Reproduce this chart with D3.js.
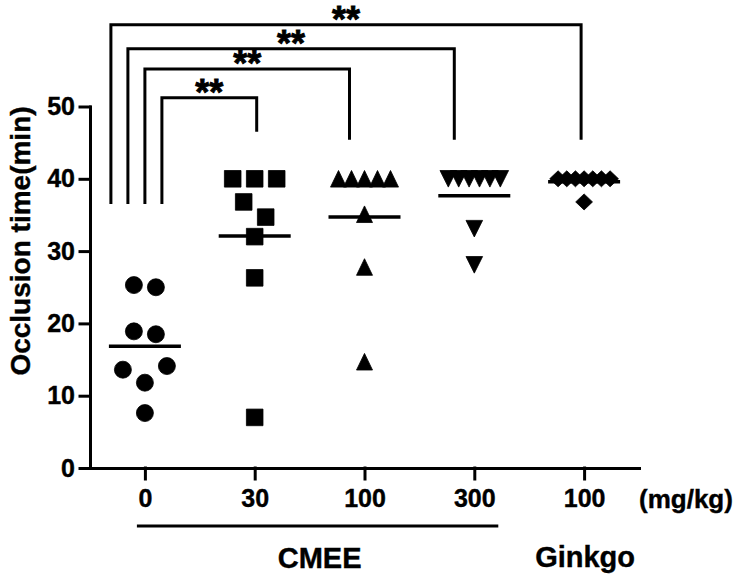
<!DOCTYPE html>
<html>
<head>
<meta charset="utf-8">
<script src="https://cdn.jsdelivr.net/npm/d3@7"></script>
<style>
	body { margin: 0; background: #fff; }
	svg text { font-family: "Liberation Sans", Arial, sans-serif; font-weight: bold; fill: #000; stroke: #000; stroke-width: 0.4px; }
</style>
</head>
<body>
<svg id="chart" width="740" height="579"></svg>
<script>
// groups on the x axis
const groupIds = ["cmee0", "cmee30", "cmee100", "cmee300", "ginkgo100"];
const doseLabels = ["0", "30", "100", "300", "100"];

// occlusion time (min) per animal
const cmee0 = [25.3, 25.0, 18.9, 18.5, 14.1, 13.6, 11.8, 7.6];
const cmee30 = [40, 40, 40, 36.8, 34.7, 32.0, 26.3, 7.0];
const cmee100 = [40, 40, 40, 40, 40, 35.1, 27.8, 14.7];
const cmee300 = [40, 40, 40, 40, 40, 40, 33.1, 28.1];
const ginkgo100 = [40, 40, 40, 40, 40, 40, 40, 36.8];
const groupValues = [cmee0, cmee30, cmee100, cmee300, ginkgo100];

const yTicks = [0, 10, 20, 30, 40, 50];

// significance brackets (vs control)
const comparisons = [["cmee0", "cmee30"], ["cmee0", "cmee100"], ["cmee0", "cmee300"], ["cmee0", "ginkgo100"]];
const bracketLevels = [51.2, 55.2, 58.0, 61.3];
const sigLabels = ["**", "**", "**", "**"];

function whenDocumentLoaded(action) {
	if (document.readyState === "loading") {
		document.addEventListener("DOMContentLoaded", action);
	} else {
		action();
	}
}

// custom marker shapes (bbox centred)
const shapes = {
	circle: { draw(ctx) { ctx.moveTo(8.5, 0); ctx.arc(0, 0, 8.5, 0, 2 * Math.PI); } },
	square: { draw(ctx) { ctx.rect(-8.3, -8.3, 16.6, 16.6); } },
	up: { draw(ctx) { ctx.moveTo(0, -8.3); ctx.lineTo(8, 8.3); ctx.lineTo(-8, 8.3); ctx.closePath(); } },
	down: { draw(ctx) { ctx.moveTo(0, 8.3); ctx.lineTo(8.3, -8.3); ctx.lineTo(-8.3, -8.3); ctx.closePath(); } },
	diamond: { draw(ctx) { ctx.moveTo(0, -8); ctx.lineTo(8.4, 0); ctx.lineTo(0, 8); ctx.lineTo(-8.4, 0); ctx.closePath(); } }
};
const groupShapes = ["circle", "square", "up", "down", "diamond"];

function drawChart() {
	const svg = d3.select("#chart");

	const x = d3.scalePoint()
		.domain(groupIds)
		.range([90, 639])
		.padding(0.5);

	const y = d3.scaleLinear()
		.domain([0, 50])
		.range([468, 106.5]);

	// axes
	const yAxis = d3.axisLeft(y)
		.tickValues(yTicks)
		.tickSize(10)
		.tickSizeOuter(0)
		.tickPadding(5);

	const xAxis = d3.axisBottom(x)
		.tickFormat((d, i) => doseLabels[i])
		.tickSize(11)
		.tickSizeOuter(0)
		.tickPadding(10);

	const yg = svg.append("g")
		.attr("transform", "translate(90,0)")
		.call(yAxis);
	yg.selectAll("text").style("font-size", "25px");

	const xg = svg.append("g")
		.attr("transform", "translate(0,468)")
		.call(xAxis);
	xg.selectAll("text").style("font-size", "25px");

	svg.selectAll(".domain, .tick line")
		.attr("stroke", "#000")
		.attr("stroke-width", 3)
		.attr("stroke-linecap", "square");

	// y label
	svg.append("text")
		.attr("transform", "translate(30,241) rotate(-90)")
		.attr("text-anchor", "middle")
		.style("font-size", "28px")
		.text("Occlusion time(min)");

	// unit label
	svg.append("text")
		.attr("x", 639)
		.attr("y", 508)
		.style("font-size", "26px")
		.text("(mg/kg)");

	// CMEE underline and group names
	svg.append("line")
		.attr("x1", x("cmee0") - 8)
		.attr("x2", x("cmee300") + 24)
		.attr("y1", 526)
		.attr("y2", 526)
		.attr("stroke", "#000")
		.attr("stroke-width", 3);

	svg.append("text")
		.attr("x", (x("cmee0") - 8 + x("cmee300") + 24) / 2 + 2)
		.attr("y", 568)
		.attr("text-anchor", "middle")
		.style("font-size", "29px")
		.text("CMEE");

	svg.append("text")
		.attr("x", x("ginkgo100") + 1)
		.attr("y", 567)
		.attr("text-anchor", "middle")
		.style("font-size", "29px")
		.text("Ginkgo");

	// scatter: points are grouped into rows of near-equal values and spread sideways
	const points = [];
	const means = [];
	groupValues.forEach((vals, gi) => {
		const gid = groupIds[gi];
		const pts = vals.map(v => ({ v: v, y: y(v), gi: gi }))
			.sort((a, b) => a.y - b.y);
		const rows = [];
		pts.forEach(p => {
			const row = rows[rows.length - 1];
			if (row && p.y - row[0].y <= 20) row.push(p);
			else rows.push([p]);
		});
		rows.forEach(row => {
			const n = row.length;
			const spacing = Math.min(22, 52 / Math.max(1, n - 1));
			const meanY = d3.mean(row, p => p.y);
			const slots = [];
			if (n % 2) {
				slots.push(0);
				for (let k = 1; slots.length < n; k++) slots.push(k, -k);
			} else {
				for (let k = 0.5; slots.length < n; k++) slots.push(-k, k);
			}
			const ordered = row.slice().sort((a, b) => {
				const dd = Math.abs(b.y - meanY) - Math.abs(a.y - meanY);
				return Math.abs(dd) < 1 ? b.v - a.v : dd;
			});
			ordered.forEach((p, i) => {
				p.x = x(gid) + slots[i] * spacing;
				points.push(p);
			});
		});
		means.push({ gid: gid, m: d3.mean(vals) });
	});

	svg.append("g").selectAll("path")
		.data(points)
		.enter()
		.append("path")
		.attr("transform", d => "translate(" + d.x + "," + d.y + ")")
		.attr("d", d => d3.symbol().type(shapes[groupShapes[d.gi]])())
		.attr("fill", "#000")
		.attr("stroke", "#000")
		.attr("stroke-width", 0.8)
		.attr("stroke-linejoin", "round");

	svg.append("g").selectAll("line")
		.data(means)
		.enter()
		.append("line")
		.attr("x1", d => x(d.gid) - 36)
		.attr("x2", d => x(d.gid) + 36)
		.attr("y1", d => y(d.m))
		.attr("y2", d => y(d.m))
		.attr("stroke", "#000")
		.attr("stroke-width", 3.5);

	// significance brackets
	const leftDx = i => 17 - 17 * i;
	const rightDx = [2, -15, -20, -3];
	const leftBottom = 36.5;
	const rightBottom = [46.5, 45.4, 45.4, 45.4];

	const br = svg.append("g");
	comparisons.forEach((c, i) => {
		const x1 = x(c[0]) + leftDx(i);
		const x2 = x(c[1]) + rightDx[i];
		const top = y(bracketLevels[i]);
		br.append("path")
			.attr("d", "M" + x1 + "," + y(leftBottom) + "V" + top + "H" + x2 + "V" + y(rightBottom[i]))
			.attr("fill", "none")
			.attr("stroke", "#000")
			.attr("stroke-width", 3);
		br.append("text")
			.attr("x", (x1 + x2) / 2)
			.attr("y", top + 7)
			.attr("text-anchor", "middle")
			.style("font-size", "36px")
			.style("stroke-width", "0.8px")
			.text(sigLabels[i]);
	});
}

whenDocumentLoaded(drawChart);
</script>
</body>
</html>
